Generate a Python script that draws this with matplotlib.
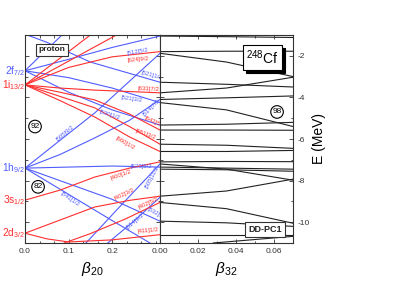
import matplotlib.pyplot as plt
import matplotlib.transforms as mtransforms
from matplotlib.patches import Rectangle
from matplotlib.ticker import MultipleLocator

plt.rcParams['font.family'] = ['Liberation Sans', 'DejaVu Sans']
plt.rcParams['mathtext.fontset'] = 'custom'
plt.rcParams['mathtext.rm'] = 'Liberation Sans'
plt.rcParams['mathtext.it'] = 'Liberation Sans:italic'
plt.rcParams['axes.unicode_minus'] = False

# spherical levels (beta20 = 0)
sph_labels = ['2f$_{7/2}$', '1i$_{13/2}$', '1h$_{9/2}$', '3s$_{1/2}$', '2d$_{3/2}$']
sph_energy = [-2.72, -3.4, -7.4, -8.94, -10.53]
sph_parity = ['-', '+', '-', '+', '+']

# negative parity Nilsson levels vs beta20
neg_beta = [
    [0, 0.04, 0.085],
    [0, 0.1, 0.2, 0.31],
    [0, 0.1, 0.2, 0.31],
    [0, 0.1, 0.2, 0.31],
    [0.005, 0.05, 0.15, 0.31],
    [0, 0.08, 0.16, 0.25, 0.31],
    [0, 0.08, 0.16, 0.24, 0.31],
    [0, 0.1, 0.2, 0.31],
    [0, 0.1, 0.2, 0.31],
    [0, 0.1, 0.2, 0.287],
    [0.14, 0.22, 0.31],
    [0.19, 0.25, 0.31],
]
neg_energy = [
    [-2.72, -1.9, -1.0],
    [-2.72, -2.17, -1.6, -1.05],
    [-2.72, -3.05, -3.55, -4.25],
    [-2.72, -3.75, -4.6, -5.33],
    [-1.0, -1.35, -2.3, -3.27],
    [-7.4, -6.07, -4.75, -3.03, -1.88],
    [-7.4, -6.75, -5.95, -5.1, -4.1],
    [-7.4, -7.35, -7.3, -7.35],
    [-7.4, -8.15, -8.9, -9.95],
    [-7.4, -8.66, -9.92, -11.0],
    [-11.0, -9.2, -7.2],
    [-11.0, -9.95, -8.8],
]

# positive parity Nilsson levels vs beta20
pos_beta = [
    [0, 0.15],
    [0, 0.21],
    [0, 0.1, 0.2, 0.31],
    [0, 0.08, 0.16, 0.31],
    [0, 0.08, 0.16, 0.24, 0.31],
    [0, 0.08, 0.16, 0.24, 0.31],
    [0, 0.08, 0.16, 0.24, 0.31],
    [0, 0.08, 0.16, 0.24, 0.31],
    [0, 0.08, 0.16, 0.24, 0.31],
    [0, 0.05, 0.1, 0.2, 0.31],
    [0.09, 0.15, 0.23, 0.31],
]
pos_energy = [
    [-3.4, -1.0],
    [-3.4, -1.0],
    [-3.4, -2.56, -2.05, -1.8],
    [-3.4, -3.55, -3.65, -3.78],
    [-3.4, -3.75, -4.12, -4.8, -5.57],
    [-3.4, -3.95, -4.5, -5.4, -6.25],
    [-3.4, -4.15, -4.94, -5.9, -6.6],
    [-8.94, -8.46, -7.83, -7.4, -7.1],
    [-10.53, -9.9, -9.27, -8.95, -8.75],
    [-10.53, -10.8, -10.95, -10.85, -10.6],
    [-11.0, -10.55, -9.85, -9.05],
]

# levels vs beta32 (right panel)
oct_beta = [0, 0.035, 0.07]
oct_energy = [
    [-1.05, -1.08, -1.12],
    [-1.8, -1.78, -1.78],
    [-1.88, -2.3, -3.0],
    [-3.27, -3.37, -3.5],
    [-3.78, -3.55, -3.03],
    [-4.1, -4.02, -3.93],
    [-4.25, -4.6, -5.4],
    [-5.33, -5.29, -5.2],
    [-5.57, -5.57, -5.58],
    [-6.25, -6.3, -6.45],
    [-6.6, -6.6, -6.55],
    [-7.1, -7.08, -7.09],
    [-7.2, -7.45, -7.98],
    [-7.35, -7.4, -7.45],
    [-7.45, -7.48, -7.55],
    [-8.75, -8.5, -7.93],
    [-9.05, -9.35, -10.05],
    [-9.95, -10.03, -10.2],
    [-10.6, -10.6, -10.6],
]
oct_extra_beta = [0.028, 0.07]
oct_extra_energy = [-11.0, -10.68]

# orbit labels: text, beta20, E, rotation, parity
orbit_labels = [
    ('[512]5/2', 0.26, -1.78, 10, '-'),
    ('[624]9/2', 0.26, -2.2, 5, '+'),
    ('[521]1/2', 0.292, -2.95, -15, '-'),
    ('[633]7/2', 0.285, -3.6, -3, '+'),
    ('[521]3/2', 0.246, -4.1, -8, '-'),
    ('[514]7/2', 0.29, -4.5, 45, '-'),
    ('[530]1/2', 0.195, -4.84, -18, '-'),
    ('[642]5/2', 0.297, -5.18, -25, '+'),
    ('[651]3/2', 0.276, -5.76, -20, '+'),
    ('[660]1/2', 0.23, -6.19, -30, '+'),
    ('[505]9/2', 0.092, -5.71, 40, '-'),
    ('[523]5/2', 0.267, -7.33, 0, '-'),
    ('[505]11/2', 0.292, -7.83, 62, '-'),
    ('[400]1/2', 0.221, -7.73, 20, '+'),
    ('[402]3/2', 0.228, -8.65, 25, '+'),
    ('[541]1/2', 0.103, -8.89, -35, '-'),
    ('[402]5/2', 0.283, -9.06, 25, '+'),
    ('[532]3/2', 0.303, -9.61, -30, '-'),
    ('[514]9/2', 0.253, -9.95, 40, '-'),
    ('[411]1/2', 0.283, -10.41, 5, '+'),
]

blue = '#4f5cff'
red = '#ff2e2e'
dark = '#222222'
colors = {'-': blue, '+': red}

fig = plt.figure(figsize=(3.99, 2.82), dpi=100)
ax1 = fig.add_axes([25/399, 1-243/282, 135/399, 208/282])
ax2 = fig.add_axes([160/399, 1-243/282, 133/399, 208/282])

for b, e in zip(neg_beta, neg_energy):
    ax1.plot(b, e, color=blue, lw=0.8)
for b, e in zip(pos_beta, pos_energy):
    ax1.plot(b, e, color=red, lw=0.8)
for e in oct_energy:
    ax2.plot(oct_beta, e, color=dark, lw=0.8)
ax2.plot(oct_extra_beta, oct_extra_energy, color=dark, lw=0.8)

for txt, b, e, rot, par in orbit_labels:
    ax1.text(b, e, txt, color=colors[par], fontsize=4.3, rotation=rot,
             ha='center', va='center', rotation_mode='anchor')

trans = mtransforms.blended_transform_factory(ax1.transAxes, ax1.transData)
for lab, e, par in zip(sph_labels, sph_energy, sph_parity):
    ax1.text(0.002, e, lab, transform=trans, color=colors[par], fontsize=7.3,
             ha='right', va='center')

for ax in (ax1, ax2):
    ax.set_ylim(-11, -1)
    ax.yaxis.set_major_locator(MultipleLocator(2))
    ax.yaxis.set_minor_locator(MultipleLocator(1))
    ax.tick_params(which='both', direction='in', top=True, right=True,
                   labelsize=6, colors='#333333', width=0.6)
    ax.tick_params(which='major', length=3)
    ax.tick_params(which='minor', length=1.8)
    for s in ax.spines.values():
        s.set_linewidth(0.8)
        s.set_color('#333333')

ax1.set_xlim(0, 0.31)
ax1.xaxis.set_minor_locator(MultipleLocator(0.1/3))
ax1.set_xticks([0, 0.1, 0.2])
ax1.set_xticklabels(['0.0', '0.1', '0.2'])
ax1.set_yticklabels([])

ax2.set_xlim(0, 0.07)
ax2.set_xticks([0, 0.02, 0.04, 0.06])
ax2.set_xticklabels(['0.00', '0.02', '0.04', '0.06'])
ax2.xaxis.set_minor_locator(MultipleLocator(0.01))
ax2.tick_params(labelleft=False, labelright=True)
ax2.set_yticks([-10, -8, -6, -4, -2])
ax2.set_yticklabels(['-10', '-8', '-6', '-4', '-2'])
ax2.yaxis.set_label_position('right')
ax2.set_ylabel('E (MeV)', fontsize=10, labelpad=1)

ax1.set_xlabel(r'$\beta_{20}$', fontsize=11, labelpad=4)
ax2.set_xlabel(r'$\beta_{32}$', fontsize=11, labelpad=4)

ax1.text(0.062, -1.72, 'proton', fontsize=6, fontweight='bold', color=dark,
         ha='center', va='center',
         bbox=dict(boxstyle='square,pad=0.3', fc='white', ec='#333333', lw=0.8))
ax1.text(0.023, -5.4, '92', fontsize=6, ha='center', va='center',
         bbox=dict(boxstyle='circle,pad=0.2', fc='white', ec='black', lw=0.8))
ax1.text(0.03, -8.3, '82', fontsize=6, ha='center', va='center',
         bbox=dict(boxstyle='circle,pad=0.2', fc='white', ec='black', lw=0.8))
ax2.text(0.0616, -4.7, '98', fontsize=6, ha='center', va='center',
         bbox=dict(boxstyle='circle,pad=0.2', fc='white', ec='black', lw=0.8))

# 248Cf box with drop shadow
shadow = mtransforms.offset_copy(ax2.transData, fig=fig, x=3, y=-3, units='dots')
ax2.add_patch(Rectangle((0.0437, -2.67), 0.0205, 1.2, transform=shadow,
                        fc='black', ec='black', lw=0.8, zorder=4))
ax2.add_patch(Rectangle((0.0437, -2.67), 0.0205, 1.2, fc='white', ec='black',
                        lw=0.8, zorder=5))
ax2.text(0.054, -2.1, '$^{248}$Cf', fontsize=10, ha='center', va='center',
         color='black', zorder=6)

ax2.text(0.0553, -10.36, 'DD-PC1', fontsize=6.5, fontweight='bold', ha='center',
         va='center', color=dark,
         bbox=dict(boxstyle='square,pad=0.35', fc='white', ec='#333333', lw=0.8))

fig.savefig('out.png', dpi=100)
